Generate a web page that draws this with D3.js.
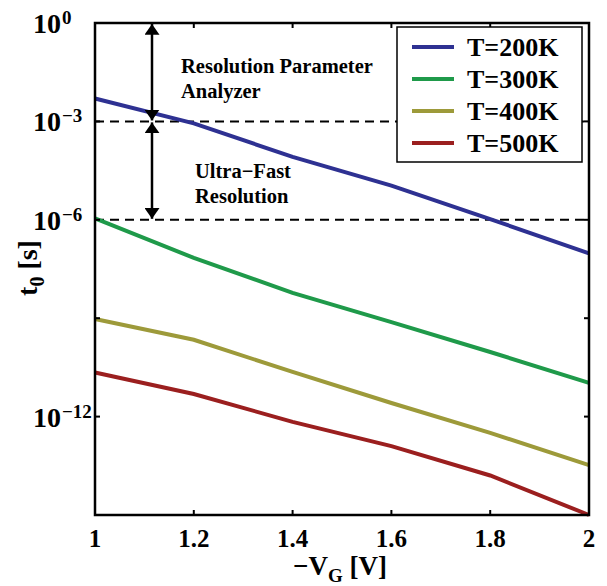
<!DOCTYPE html>
<html>
<head>
<meta charset="utf-8">
<script src="https://cdn.jsdelivr.net/npm/d3@7"></script>
<style>
  body { margin: 0; background: #fff; }
  text { font-family: "Liberation Serif", "Times New Roman", serif; font-weight: bold; fill: #000; }
</style>
</head>
<body>
<div id="chart"></div>
<script>
// gate voltage (-V_G) and time constants t0 for each temperature
var vg = [1, 1.2, 1.4, 1.6, 1.8, 2];
var t200 = [5.0e-3, 8.7e-4, 8.3e-5, 1.1e-5, 1.05e-6, 9.5e-8];
var t300 = [1.1e-6, 6.9e-8, 5.9e-9, 7.6e-10, 9.3e-11, 1.07e-11];
var t400 = [9.5e-10, 2.2e-10, 2.3e-11, 2.6e-12, 3.2e-13, 3.3e-14];
var t500 = [2.2e-11, 4.9e-12, 6.9e-13, 1.26e-13, 1.6e-14, 1.0e-15];

var seriesNames = ["T=200K", "T=300K", "T=400K", "T=500K"];
var seriesColors = ["#2e3192", "#1f9a4a", "#9d9a3a", "#9b1f1f"];
var seriesData = [t200, t300, t400, t500];

var xTicks = [1, 1.2, 1.4, 1.6, 1.8, 2];
var yTickExp = [0, -3, -6, -9, -12, -15];
var yLabelExp = [0, -3, -6, -12];

// resolution limits drawn as dashed lines
var limits = [1e-3, 1e-6];

var width = 607, height = 586;
var margin = { left: 95, top: 23, right: 18, bottom: 71 };
var plotW = width - margin.left - margin.right;
var plotH = height - margin.top - margin.bottom;

var svg = d3.select("#chart").append("svg")
  .attr("width", width)
  .attr("height", height);

var xScale = d3.scaleLinear().domain([1, 2]).range([margin.left, margin.left + plotW]);
var yScale = d3.scaleLog().domain([1e-15, 1]).range([margin.top + plotH, margin.top]);

// dashed limit lines
svg.selectAll("line.limit").data(limits).enter()
  .append("line")
  .attr("class", "limit")
  .attr("x1", xScale(1)).attr("x2", xScale(2))
  .attr("y1", function(d) { return yScale(d); })
  .attr("y2", function(d) { return yScale(d); })
  .attr("stroke", "#000")
  .attr("stroke-width", 2)
  .attr("stroke-dasharray", "9,6");

// data lines
var line = d3.line()
  .x(function(d, i) { return xScale(vg[i]); })
  .y(function(d) { return yScale(d); });

svg.selectAll("path.series").data(seriesData).enter()
  .append("path")
  .attr("class", "series")
  .attr("d", line)
  .attr("fill", "none")
  .attr("stroke", function(d, i) { return seriesColors[i]; })
  .attr("stroke-width", 4);

// double arrows
var defs = svg.append("defs");
defs.append("marker")
  .attr("id", "arrow")
  .attr("viewBox", "0 0 10 14")
  .attr("refX", 10).attr("refY", 7)
  .attr("markerWidth", 11).attr("markerHeight", 15)
  .attr("markerUnits", "userSpaceOnUse")
  .attr("orient", "auto-start-reverse")
  .append("path")
  .attr("d", "M0,0 L10,7 L0,14 Z")
  .attr("fill", "#000");

var arrowX = 152;
var arrowSpans = [[1, 1e-3], [1e-3, 1e-6]];
arrowSpans.forEach(function(s) {
  svg.append("line")
    .attr("x1", arrowX).attr("x2", arrowX)
    .attr("y1", yScale(s[0]) + 1).attr("y2", yScale(s[1]) - 1)
    .attr("stroke", "#000")
    .attr("stroke-width", 2.5)
    .attr("marker-start", "url(#arrow)")
    .attr("marker-end", "url(#arrow)");
});

// annotation text
function annot(x, y, lines) {
  var t = svg.append("text").attr("x", x).attr("y", y).style("font-size", "20.5px");
  lines.forEach(function(l, i) {
    t.append("tspan").attr("x", x).attr("dy", i === 0 ? 0 : 25).text(l);
  });
}
annot(181, 73, ["Resolution Parameter", "Analyzer"]);
annot(195, 178, ["Ultra\u2212Fast", "Resolution"]);

// axes box
svg.append("rect")
  .attr("x", margin.left).attr("y", margin.top)
  .attr("width", plotW).attr("height", plotH)
  .attr("fill", "none")
  .attr("stroke", "#000")
  .attr("stroke-width", 2.5);

// ticks (inside, all four sides)
var tl = 5;
xTicks.forEach(function(v) {
  var x = xScale(v);
  svg.append("line").attr("x1", x).attr("x2", x)
    .attr("y1", margin.top + plotH).attr("y2", margin.top + plotH - tl)
    .attr("stroke", "#000").attr("stroke-width", 2);
  svg.append("line").attr("x1", x).attr("x2", x)
    .attr("y1", margin.top).attr("y2", margin.top + tl)
    .attr("stroke", "#000").attr("stroke-width", 2);
  svg.append("text")
    .attr("x", x).attr("y", margin.top + plotH + 32)
    .attr("text-anchor", "middle")
    .style("font-size", "25px")
    .text(d3.format("")(v));
});

yTickExp.forEach(function(e) {
  var y = yScale(Math.pow(10, e));
  svg.append("line").attr("x1", margin.left).attr("x2", margin.left + tl)
    .attr("y1", y).attr("y2", y)
    .attr("stroke", "#000").attr("stroke-width", 2);
  svg.append("line").attr("x1", margin.left + plotW).attr("x2", margin.left + plotW - tl)
    .attr("y1", y).attr("y2", y)
    .attr("stroke", "#000").attr("stroke-width", 2);
});

yLabelExp.forEach(function(e) {
  var y = yScale(Math.pow(10, e));
  svg.append("text")
    .attr("x", 61).attr("y", y + 10)
    .attr("text-anchor", "end")
    .style("font-size", "28px")
    .text("10");
  svg.append("text")
    .attr("x", 62).attr("y", y + 1)
    .style("font-size", "19px")
    .text(e === 0 ? "0" : "\u2212" + Math.abs(e));
});

// axis labels
var xl = svg.append("text")
  .attr("x", 340).attr("y", 575)
  .attr("text-anchor", "middle")
  .style("font-size", "27px");
xl.append("tspan").text("\u2212V");
xl.append("tspan").attr("dy", 7).style("font-size", "19px").text("G");
xl.append("tspan").attr("dy", -7).text(" [V]");

var yl = svg.append("text")
  .attr("transform", "translate(37,268) rotate(-90)")
  .attr("text-anchor", "middle")
  .style("font-size", "28px");
yl.append("tspan").text("t");
yl.append("tspan").attr("dy", 7).style("font-size", "20px").text("0");
yl.append("tspan").attr("dy", -7).text(" [s]");

// legend
var lg = svg.append("g");
lg.append("rect")
  .attr("x", 397).attr("y", 27)
  .attr("width", 185).attr("height", 135)
  .attr("fill", "#fff")
  .attr("stroke", "#000")
  .attr("stroke-width", 1.5);
seriesNames.forEach(function(n, i) {
  var y = 47 + i * 32;
  lg.append("line")
    .attr("x1", 412).attr("x2", 454)
    .attr("y1", y).attr("y2", y)
    .attr("stroke", seriesColors[i])
    .attr("stroke-width", 4);
  lg.append("text")
    .attr("x", 467).attr("y", y + 9)
    .style("font-size", "26px")
    .text(n);
});
</script>
</body>
</html>
